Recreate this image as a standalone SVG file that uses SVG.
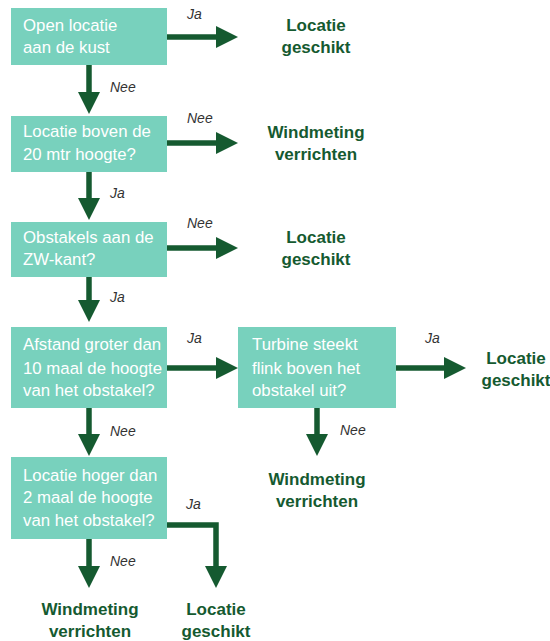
<svg xmlns="http://www.w3.org/2000/svg" width="550" height="641" viewBox="0 0 550 641">
<style>
.box{fill:#78d1bd}
.bt{font-family:"Liberation Sans",Arial,sans-serif;font-size:16.8px;fill:#ffffff}
.lb{font-family:"Liberation Sans",Arial,sans-serif;font-size:14px;font-style:italic;fill:#333333}
.out{font-family:"Liberation Sans",Arial,sans-serif;font-size:17px;font-weight:bold;fill:#155a30;text-anchor:middle}
.ln{stroke:#155a30;stroke-width:5.5;fill:none}
.hd{fill:#155a30}
</style>
<rect width="550" height="641" fill="#ffffff"/>
<g id="n1"><rect class="box" x="11" y="8" width="156" height="57"/><text class="bt" x="23" y="31">Open locatie</text><text class="bt" x="23" y="53">aan de kust</text></g>
<g id="n2"><rect class="box" x="11" y="116" width="156" height="56"/><text class="bt" x="23" y="137">Locatie boven de</text><text class="bt" x="23" y="160">20 mtr hoogte?</text></g>
<g id="n3"><rect class="box" x="11" y="222" width="156" height="55"/><text class="bt" x="23" y="243">Obstakels aan de</text><text class="bt" x="23" y="265">ZW-kant?</text></g>
<g id="n4"><rect class="box" x="11" y="327" width="156" height="81"/><text class="bt" x="23" y="350">Afstand groter dan</text><text class="bt" x="23" y="374">10 maal de hoogte</text><text class="bt" x="23" y="396">van het obstakel?</text></g>
<g id="n5"><rect class="box" x="238" y="327" width="158" height="81"/><text class="bt" x="252" y="350">Turbine steekt</text><text class="bt" x="252" y="374">flink boven het</text><text class="bt" x="252" y="396">obstakel uit?</text></g>
<g id="n6"><rect class="box" x="11" y="457" width="156" height="82"/><text class="bt" x="23" y="481">Locatie hoger dan</text><text class="bt" x="23" y="503">2 maal de hoogte</text><text class="bt" x="23" y="526">van het obstakel?</text></g>
<g id="o1"><text class="out" x="316" y="31">Locatie</text><text class="out" x="316" y="53">geschikt</text></g>
<g id="o2"><text class="out" x="316" y="138">Windmeting</text><text class="out" x="316" y="160">verrichten</text></g>
<g id="o3"><text class="out" x="316" y="243">Locatie</text><text class="out" x="316" y="265">geschikt</text></g>
<g id="o4"><text class="out" x="516" y="364">Locatie</text><text class="out" x="516" y="386">geschikt</text></g>
<g id="o5"><text class="out" x="317" y="485">Windmeting</text><text class="out" x="317" y="507">verrichten</text></g>
<g id="o6"><text class="out" x="90" y="615">Windmeting</text><text class="out" x="90" y="637">verrichten</text></g>
<g id="o7"><text class="out" x="216" y="615">Locatie</text><text class="out" x="216" y="637">geschikt</text></g>
<g id="connectors">
<path class="ln" d="M167 37H218"/><path class="hd" d="M216 26L238 37L216 48Z"/>
<path class="ln" d="M167 143H218"/><path class="hd" d="M216 132L238 143L216 154Z"/>
<path class="ln" d="M167 248H218"/><path class="hd" d="M216 237L238 248L216 259Z"/>
<path class="ln" d="M167 368H218"/><path class="hd" d="M216 357L238 368L216 379Z"/>
<path class="ln" d="M396 368H446"/><path class="hd" d="M444 357L466 368L444 379Z"/>
<path class="ln" d="M89 65V94"/><path class="hd" d="M78 92L89 114L100 92Z"/>
<path class="ln" d="M89 172V200"/><path class="hd" d="M78 198L89 220L100 198Z"/>
<path class="ln" d="M89 277V302"/><path class="hd" d="M78 300L89 322L100 300Z"/>
<path class="ln" d="M89 408V436"/><path class="hd" d="M78 434L89 456L100 434Z"/>
<path class="ln" d="M317 408V436"/><path class="hd" d="M306 434L317 456L328 434Z"/>
<path class="ln" d="M89 539V568"/><path class="hd" d="M78 566L89 588L100 566Z"/>
<path class="ln" d="M167 525H216V568"/><path class="hd" d="M205 566L216 588L227 566Z"/>
<text class="lb" x="187" y="19">Ja</text>
<text class="lb" x="187" y="123">Nee</text>
<text class="lb" x="187" y="228">Nee</text>
<text class="lb" x="187" y="343">Ja</text>
<text class="lb" x="425" y="343">Ja</text>
<text class="lb" x="186" y="509">Ja</text>
<text class="lb" x="110" y="92">Nee</text>
<text class="lb" x="110" y="198">Ja</text>
<text class="lb" x="110" y="302">Ja</text>
<text class="lb" x="110" y="436">Nee</text>
<text class="lb" x="340" y="435">Nee</text>
<text class="lb" x="110" y="566">Nee</text>
</g>
</svg>
